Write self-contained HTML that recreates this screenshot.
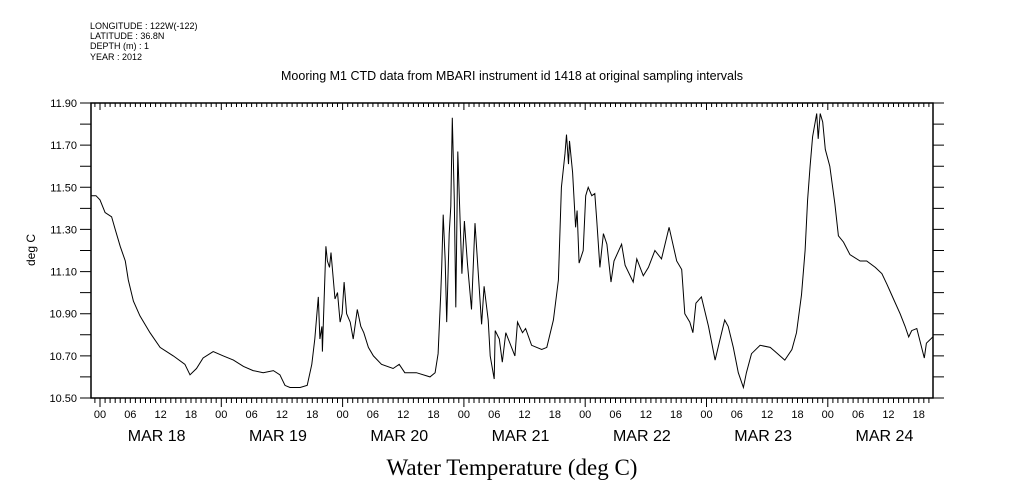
<!DOCTYPE html>
<html><head><meta charset="utf-8"><style>
body{margin:0;background:#fff;}
svg{display:block;font-family:"Liberation Sans",sans-serif;}
</style></head><body>
<svg id="chart" width="1009" height="504" viewBox="0 0 1009 504">
<g font-size="9" fill="#000">
<text x="90" y="29">LONGITUDE : 122W(-122)</text>
<text x="90" y="39">LATITUDE : 36.8N</text>
<text x="90" y="49">DEPTH (m) : 1</text>
<text x="90" y="60">YEAR : 2012</text>
</g>
<text x="512" y="80" font-size="12.5" text-anchor="middle">Mooring M1 CTD data from MBARI instrument id 1418 at original sampling intervals</text>
<text x="512" y="475" font-size="23" text-anchor="middle" font-family="Liberation Serif,serif">Water Temperature (deg C)</text>
<text transform="translate(35,250) rotate(-90)" font-size="12" text-anchor="middle">deg C</text>
<g id="axes"></g>
<path id="line" fill="none" stroke="#000" stroke-width="1"/>
</svg>
<script>
// hours since MAR 18 00:00
const hours=[-2,-0.8,0,1,2.3,3,4,5,5.6,6.6,7.9,9.9,11.9,14.5,16.8,17.8,19.1,20.4,22.4,24.4,26.4,28.4,30.3,32.3,34.3,35.6,36.6,37.6,39.6,41,41.9,42.5,43.2,43.5,43.9,44,44.7,45,45.4,45.7,46.5,47,47.5,47.9,48.3,48.8,49.5,50.1,50.9,51.6,52.2,53.1,54.1,55.7,58,59.2,60.3,62.6,65.3,66.3,66.9,67.4,67.6,67.9,68.3,68.6,69.1,69.4,69.7,70.1,70.4,70.8,71.1,71.6,72.1,72.7,73.5,74.2,75.5,76,76.8,77.2,78,78.2,79,79.6,80.3,82.1,82.6,83.6,84.2,85.4,87.4,88.4,89.7,90.7,91.3,92,92.3,92.7,92.9,93.5,94.1,94.4,94.8,95.6,96.1,96.6,97.3,97.9,98.3,98.9,99.6,100.3,101.1,101.7,103.2,103.9,105.5,106.2,107.5,108.5,109.8,111.1,112.6,114.1,115.1,115.7,116.7,117.3,117.9,119,120.4,121.7,122.6,123.6,124.3,125.3,126.3,127.3,127.9,128.9,130.6,132.6,133.6,135.5,136.9,137.8,138.8,139.5,140,140.5,141,141.8,142.1,142.5,143,143.5,144.4,145.4,146.1,147.1,148.4,150.4,151.7,153.4,154.7,155.7,157,158.3,159.3,160,160.6,161.6,163.1,163.5,164.8];
const temps=[11.46,11.46,11.44,11.38,11.36,11.30,11.22,11.15,11.06,10.96,10.89,10.81,10.74,10.70,10.66,10.61,10.64,10.69,10.72,10.70,10.68,10.65,10.63,10.62,10.63,10.61,10.56,10.55,10.55,10.56,10.66,10.78,10.98,10.78,10.84,10.72,11.22,11.15,11.12,11.19,10.97,11.00,10.86,10.90,11.05,10.90,10.86,10.78,10.92,10.84,10.81,10.74,10.70,10.66,10.64,10.66,10.62,10.62,10.60,10.62,10.71,10.99,11.12,11.37,11.15,10.86,11.28,11.41,11.83,11.44,10.93,11.67,11.44,11.09,11.34,11.14,10.92,11.33,10.85,11.03,10.87,10.70,10.59,10.82,10.78,10.67,10.81,10.70,10.86,10.81,10.83,10.75,10.73,10.74,10.87,11.06,11.50,11.66,11.75,11.61,11.72,11.57,11.31,11.39,11.14,11.20,11.46,11.50,11.46,11.47,11.34,11.12,11.28,11.23,11.05,11.15,11.23,11.13,11.05,11.16,11.08,11.12,11.20,11.16,11.31,11.15,11.11,10.90,10.86,10.81,10.95,10.98,10.84,10.68,10.77,10.87,10.84,10.74,10.62,10.55,10.62,10.71,10.75,10.74,10.72,10.68,10.73,10.81,10.99,11.20,11.44,11.60,11.74,11.85,11.73,11.85,11.81,11.68,11.60,11.42,11.27,11.24,11.18,11.15,11.15,11.12,11.09,11.04,10.97,10.90,10.84,10.79,10.82,10.83,10.69,10.76,10.79];
const yTicks=[10.5,10.6,10.7,10.8,10.9,11.0,11.1,11.2,11.3,11.4,11.5,11.6,11.7,11.8,11.9];
const yLabels=["10.50","10.70","10.90","11.10","11.30","11.50","11.70","11.90"];
const dayLabels=["MAR 18","MAR 19","MAR 20","MAR 21","MAR 22","MAR 23","MAR 24"];
const hourLabels=["00","06","12","18"];

const L=91,R=933,T=103,B=398,X0=100,PXD=121.3;
const sx=h=>X0+h*PXD/24;
const sy=v=>T+(11.9-v)*(B-T)/1.4;
const NS="http://www.w3.org/2000/svg";
const ax=document.getElementById('axes');
function mk(tag,attrs,parent){const e=document.createElementNS(NS,tag);for(const k in attrs)e.setAttribute(k,attrs[k]);(parent||ax).appendChild(e);return e;}
const frame=mk('rect',{x:L,y:T,width:R-L,height:B-T,fill:'none',stroke:'#000','stroke-width':1.5});


let d='';
yTicks.forEach(v=>{const y=sy(v).toFixed(1);d+=`M${L-11},${y}H${L}M${R},${y}H${R+11}`;});
const hMin=Math.ceil((L-X0)*24/PXD),hMax=Math.floor((R-X0)*24/PXD);
for(let h=hMin;h<=hMax;h++){const x=sx(h).toFixed(1);const big=(h%24===0);d+=`M${x},${T}V${T+(big?7:4)}M${x},${B}V${B+(big?9:5)}`;}
const tk=mk('path',{d:d,stroke:'#000','stroke-width':1,fill:'none'});


yLabels.forEach(s=>{const t=mk('text',{x:77,y:sy(parseFloat(s))+4,'font-size':11,'text-anchor':'end'});t.textContent=s;

});
dayLabels.forEach((s,i)=>{
 hourLabels.forEach((hl,j)=>{const h=i*24+j*6;if(sx(h)<=R){const t=mk('text',{x:sx(h),y:418,'font-size':11,'text-anchor':'middle'});t.textContent=hl;
 
 }});
 const t=mk('text',{x:sx(i*24+12)-4,y:441,'font-size':16,'text-anchor':'middle'});t.textContent=s;
 
 
});
document.getElementById('line').setAttribute('d',hours.map((h,i)=>(i?'L':'M')+Math.max(L,Math.min(R,sx(h))).toFixed(1)+','+sy(temps[i]).toFixed(1)).join(''));
</script>
</body></html>
